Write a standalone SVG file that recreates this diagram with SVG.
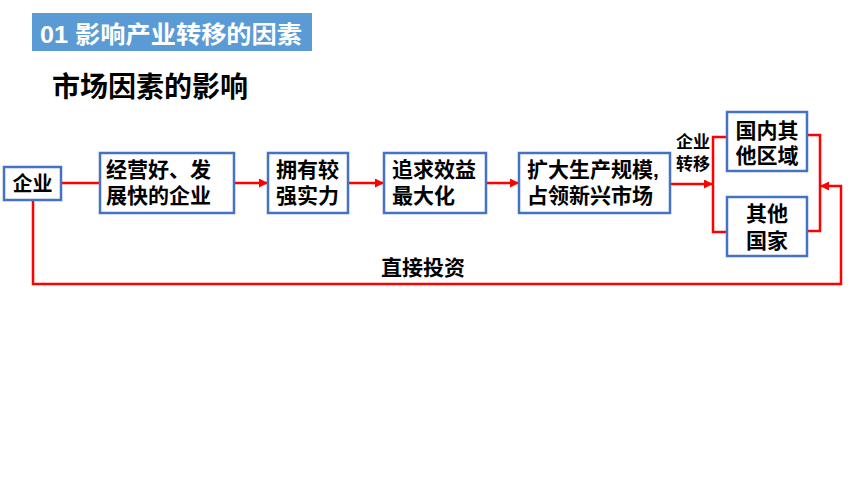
<svg xmlns="http://www.w3.org/2000/svg" width="860" height="484" viewBox="0 0 860 484">
<style>
.t{font-family:"Liberation Sans","Noto Sans CJK SC",sans-serif;font-weight:bold;fill:#000}
.n{fill:#fff;stroke:#4472C4;stroke-width:2.5}
.c{fill:none;stroke:#FF0000;stroke-width:2.5}
</style>
<defs>
<marker id="a" viewBox="0 0 10 10" refX="10" refY="5" markerWidth="3.6" markerHeight="3.6" orient="auto" markerUnits="strokeWidth">
<path d="M0,0 L10,5 L0,10 Z" fill="#FF0000"/>
</marker>
</defs>
<rect width="860" height="484" fill="#fff"/>
<g id="title">
<rect x="32" y="13" width="280" height="38" fill="#5B9BD5"/>
<text x="40" y="43" font-size="24" textLength="262" lengthAdjust="spacingAndGlyphs" style="font-family:'Liberation Sans','Noto Sans CJK SC',sans-serif;font-weight:bold;fill:#fff">01 影响产业转移的因素</text>
</g>
<g id="subtitle">
<text class="t" x="52" y="97" font-size="28">市场因素的影响</text>
</g>
<g id="connectors">
<line class="c" x1="62" y1="183" x2="100" y2="183"/>
<line class="c" x1="234" y1="183" x2="268" y2="183" marker-end="url(#a)"/>
<line class="c" x1="348" y1="183" x2="384" y2="183" marker-end="url(#a)"/>
<line class="c" x1="486" y1="183" x2="519" y2="183" marker-end="url(#a)"/>
<line class="c" x1="670" y1="184" x2="713" y2="184" marker-end="url(#a)"/>
<polyline class="c" points="727,137 713,137 713,232 727,232"/>
<polyline class="c" points="807,135 820,135 820,231 807,231"/>
<polyline class="c" points="33,200 33,284 841,284 841,186 820,186" marker-end="url(#a)"/>
<text class="t" x="381" y="275" font-size="21">直接投资</text>
<text class="t" font-size="17" text-anchor="middle"><tspan x="693" y="148">企业</tspan><tspan x="693" y="170">转移</tspan></text>
</g>
<g id="n1">
<rect class="n" x="4" y="167" width="57" height="33"/>
<text class="t" x="32.5" y="191" font-size="20" text-anchor="middle">企业</text>
</g>
<g id="n2">
<rect class="n" x="100" y="153" width="134" height="60"/>
<text class="t" font-size="21"><tspan x="106" y="177">经营好、发</tspan><tspan x="106" y="203">展快的企业</tspan></text>
</g>
<g id="n3">
<rect class="n" x="268" y="153" width="80" height="60"/>
<text class="t" font-size="21"><tspan x="276" y="177">拥有较</tspan><tspan x="276" y="203">强实力</tspan></text>
</g>
<g id="n4">
<rect class="n" x="384" y="153" width="102" height="60"/>
<text class="t" font-size="21"><tspan x="392" y="177">追求效益</tspan><tspan x="392" y="203">最大化</tspan></text>
</g>
<g id="n5">
<rect class="n" x="519" y="153" width="151" height="60"/>
<text class="t" font-size="21"><tspan x="527" y="177">扩大生产规模,</tspan><tspan x="527" y="203">占领新兴市场</tspan></text>
</g>
<g id="n6">
<rect class="n" x="727" y="112" width="80" height="59"/>
<text class="t" font-size="21" text-anchor="middle"><tspan x="767" y="138">国内其</tspan><tspan x="767" y="163">他区域</tspan></text>
</g>
<g id="n7">
<rect class="n" x="727" y="197" width="80" height="59"/>
<text class="t" font-size="21" text-anchor="middle"><tspan x="767" y="221">其他</tspan><tspan x="767" y="248">国家</tspan></text>
</g>
</svg>
